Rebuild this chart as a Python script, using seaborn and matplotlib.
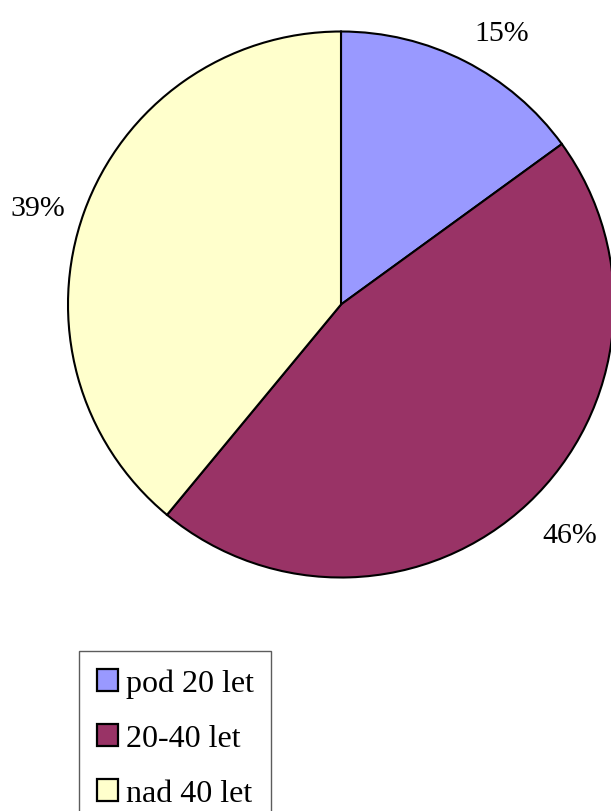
import matplotlib
matplotlib.use("Agg")
import numpy as np
import matplotlib.pyplot as plt
import seaborn as sns

# data
categories = ["pod 20 let", "20-40 let", "nad 40 let"]
shares = [15, 46, 39]
colors = ["#9999FF", "#993366", "#FFFFCC"]

sns.set_theme(style="white")
plt.rcParams["font.family"] = ["Liberation Serif", "DejaVu Serif"]
plt.rcParams["text.color"] = "black"

W, H = 611, 812
fig = plt.figure(figsize=(W / 100, H / 100), dpi=100)

# pie centre and radius in pixels
cx, cy, r = 341, 305.5, 273
ax = fig.add_axes([(cx - r) / W, (H - cy - r) / H, 2 * r / W, 2 * r / H])

palette = sns.color_palette(colors)
wedges, _ = ax.pie(
    shares,
    colors=palette,
    startangle=90,
    counterclock=False,
    radius=1,
    wedgeprops=dict(edgecolor="black", linewidth=1.5),
)
for w in wedges:
    w.set_clip_on(False)
ax.set_xlim(-1, 1)
ax.set_ylim(-1, 1)
ax.set_aspect("auto")
ax.axis("off")

# percentage labels outside the pie, aligned away from it (office style)
total = sum(shares)
mids = (np.cumsum(shares) - np.array(shares) / 2) / total * 2 * np.pi
for s, a in zip(shares, mids):
    sx, cyy = np.sin(a), np.cos(a)
    ha = "left" if sx > 0 else "right"
    va = "bottom" if cyy > 0.5 else ("top" if cyy < -0.5 else "center")
    ax.text(1.075 * sx, 1.075 * cyy - 0.012, f"{s / total * 100:.0f}%",
            ha=ha, va=va, fontsize=21.5, color="black")

handles = [plt.Rectangle((0, 0), 1, 1, facecolor=c, edgecolor="black", linewidth=1.6)
           for c in colors]
leg = fig.legend(
    handles, categories,
    loc="upper left",
    bbox_to_anchor=(79 / W, 1 - 652 / H),
    bbox_transform=fig.transFigure,
    fontsize=23,
    frameon=True,
    fancybox=False,
    shadow=False,
    borderaxespad=0,
    borderpad=0.55,
    handlelength=0.66,
    handleheight=0.66,
    handletextpad=0.25,
    labelspacing=0.82,
)
for t in leg.get_texts():
    t.set_color("black")
leg.get_frame().set_edgecolor("#333333")
leg.get_frame().set_linewidth(1.0)
leg.get_frame().set_facecolor("white")

fig.savefig("out.png", dpi=100)
